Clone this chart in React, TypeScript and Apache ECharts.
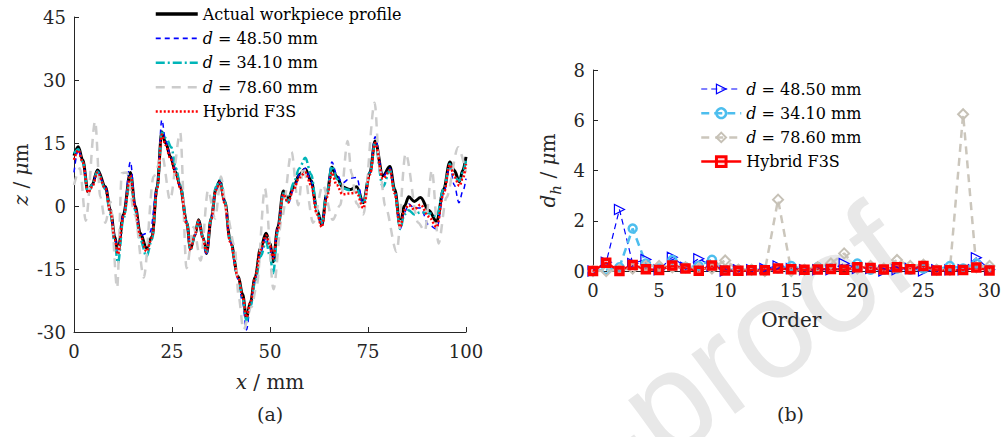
import React, { useEffect, useRef } from "react";
import * as echarts from "echarts";

// ---------- (a) profile data: [x (mm), z (µm)] ----------
const actualProfile: [number, number][] = [[0,12],[1.1,14.1],[2.2,11],[3.6,3.4],[4.6,5],[6,8.6],[8,4.6],[9.3,-1],[10.4,-7.3],[11.2,-11],[12.6,-2],[14.4,8],[15.6,0],[16.9,-6.5],[18.5,-10],[19.9,-7.3],[21.2,4.6],[22.4,17.7],[23.4,15],[24.6,11.7],[26,8],[27.1,4.6],[28.8,-4.1],[29.7,-10.2],[30.8,-7],[31.8,-3.3],[32.9,-7.5],[33.8,-11.3],[35,-3],[36.2,4],[37.2,6],[38.5,1],[39.8,-8],[41.9,-16.8],[43,-21],[44,-26.7],[45,-23],[46.2,-17],[47.6,-10],[49,-6.5],[50,-9],[50.8,-13.3],[52,-5],[53.4,3.6],[54.6,1.5],[56,4.5],[57.5,7.5],[59,8.8],[60.5,6],[62,-1],[63.2,-4.5],[64.5,3],[65.8,9.2],[67,7],[68.5,4.5],[70.4,3.9],[72.1,4.6],[73.8,0.8],[75.5,8],[76.8,15.5],[78.8,7.2],[80.6,9.4],[81.8,4],[83.2,-4.5],[84.3,0],[85.4,2.2],[86.8,1.1],[88.4,2],[90.5,-1],[92.5,-3.7],[94.3,4],[95.9,10.5],[97,8.5],[98.3,5.8],[99.2,8.5],[100,11.7]];

const profileD4850: [number, number][] = [[0,8],[1.1,13.5],[2.2,10.5],[3.6,3.5],[4.6,5],[6,8.3],[8,4.5],[9.3,-1],[10.4,-7.5],[11.2,-11],[12.6,-2],[14.4,10.5],[15.6,0],[16.9,-7],[19.4,-6.2],[21.2,4.5],[22.4,20.5],[23.4,15.5],[24.6,12],[26,8.5],[27.1,4.5],[28.8,-4],[29.7,-10.2],[30.8,-7],[31.8,-3.5],[32.9,-8],[33.8,-11.8],[35,-3],[36.2,4],[37.2,5.8],[38.5,1],[39.8,-8.5],[41.9,-17.5],[43,-23],[44,-29.5],[45,-24],[46.2,-18],[47.6,-11],[49,-7.5],[50,-10],[50.8,-12.5],[52,-5],[53.4,3],[54.6,0.5],[56,4],[57.5,7.5],[59,9],[60.5,6],[62,-1.5],[63.2,-4.5],[64.5,3],[65.8,10.5],[67,7.5],[68.5,5.5],[70.4,6.6],[72.1,6.8],[73.8,0.5],[75.5,8],[76.8,16.5],[78.8,7],[80.6,9],[81.8,3.5],[83.2,-5.5],[84.3,-1.5],[85.4,0.5],[86.8,-0.5],[88.4,-0.5],[90.5,-4.5],[92.5,-5.5],[94.3,3],[95.9,9.8],[97,5],[98.2,0.8],[99.2,3.5],[100,6.5]];

const profileD3410: [number, number][] = [[0,12.5],[1.1,13.5],[2.2,10.5],[3.6,3.2],[4.6,5],[6,8.2],[8,4],[9.3,-2],[10.4,-9],[11.2,-13.6],[12.6,-3],[14.4,7],[15.6,-1],[16.9,-8],[18.5,-12],[19.9,-8],[21.2,4],[22.4,17.5],[23.6,16],[24.8,14],[26,9],[27.1,5],[28.8,-4],[29.7,-10.5],[30.8,-7],[31.8,-3.5],[32.9,-7.5],[33.8,-11],[35,-3],[36.2,4.5],[37.2,6.2],[38.5,1],[39.8,-8],[41.9,-17],[43,-22],[44,-27.3],[45,-24],[46.2,-18],[47.6,-12],[49,-8.5],[50,-12],[50.8,-16],[52,-6],[53.4,3],[54.6,1],[56,5.5],[57.5,9],[59,11.5],[60.5,7.5],[62,-1],[63.2,-4],[64.5,3],[65.8,9.5],[67,6.5],[68.5,4.2],[70.4,3.8],[72.1,4],[73.8,0.5],[75.5,8],[76.8,15],[78.8,4.6],[80.6,8.5],[81.8,3.5],[83.2,-5.5],[84.3,-2],[85.4,-1],[86.8,-2],[88.4,-1.5],[90.5,-1.7],[92.5,-2.5],[94.3,4],[95.9,10],[97,7],[98.3,6],[99.2,8],[100,11]];

const profileD7860: [number, number][] = [[0,5],[1.5,9],[3,-3.5],[5.4,20.2],[6.7,2.2],[8,-4],[9.3,1],[11,-19.5],[12.2,7.8],[13.5,8],[15.5,-2],[17.8,-17],[20.3,7],[22.5,12],[24.5,1.4],[27.1,17.5],[28.7,-14.8],[30.5,-5],[32.3,-13],[34.2,3.8],[36,-3],[37.5,7],[39,-2],[41,-9.7],[42,-21.6],[43.2,-29.5],[45.3,-24],[46.6,-19],[48.7,4.2],[50.9,-19.8],[53,-3],[55.5,12.9],[57.2,0.2],[58.5,9.4],[61,-4],[63.5,5],[66,-3.3],[67.9,0.2],[69.8,15.5],[70.8,7.8],[72.1,0.6],[73.8,-2],[76.7,24.6],[78,8.6],[79.4,0],[82.3,-10.9],[84.6,12.5],[87.8,-4],[89.5,-6],[91.3,8.6],[93,-8.9],[95,2],[98,14],[100,8]];

const profileHybrid: [number, number][] = [[0,11],[1.1,13.3],[2.2,10.5],[3.6,3.2],[4.6,4.5],[6,8],[8,4.2],[9.3,-1.5],[10.4,-8],[11.2,-11.5],[12.6,-2.5],[14.4,7.3],[15.6,-0.5],[16.9,-7],[18.5,-10.8],[19.9,-7.5],[21.2,4],[22.4,17],[23.4,14.5],[24.6,11.3],[26,7.5],[27.1,4.3],[28.8,-4.5],[29.7,-10.5],[30.8,-7],[31.8,-3.5],[32.9,-7.8],[33.8,-11],[35,-3],[36.2,3.8],[37.2,5.5],[38.5,0.5],[39.8,-8.5],[41.9,-17],[43,-21.5],[44,-26.5],[45,-23],[46.2,-17],[47.6,-10.5],[49,-7],[50,-9.5],[50.8,-12.5],[52,-5.5],[53.4,2.8],[54.6,0.8],[56,4],[57.5,6.8],[59,8],[60.5,5],[62,-2],[63.2,-5],[64.5,2],[65.8,8],[67,5],[68.5,2.8],[70.4,3],[72.1,3.2],[73.8,-0.5],[75.5,7.5],[76.8,15],[78.8,6.5],[80.6,8.5],[81.8,3],[83.2,-5],[84.3,-1],[85.4,0.2],[86.8,-0.8],[88.4,0.3],[90.5,-2.5],[92.5,-5],[94.3,3],[95.9,9.8],[97,7],[98.3,4.8],[99.2,6.5],[100,10]];

// ---------- (b) harmonic deviation data, orders 0..30 ----------
const orders: number[] = Array.from({ length: 31 }, (_, i) => i);
const dhD4850: number[] = [0,0.35,2.45,0.3,0.46,0.05,0.55,0.15,0.49,0.2,0,0.05,0.05,0.1,0.2,0.1,0.05,0.05,0.05,0.3,0.1,0.1,0,0.05,0.1,0,0.05,0.05,0.05,0.53,0.05];
const dhD3410: number[] = [0,0.05,0.15,1.69,0.3,0.1,0.44,0.15,0.2,0.45,0.05,0.05,0.05,0.05,0.1,0.2,0.05,0.15,0.1,0.05,0.3,0.05,0.05,0.1,0.05,0.1,0.05,0.2,0.1,0.3,0.05];
const dhD7860: number[] = [0,0,0.05,0.1,0.2,0.2,0.15,0.15,0.1,0.1,0.42,0.05,0.05,0,2.84,0,0.05,0.15,0.3,0.7,0.1,0.2,0.1,0.44,0.2,0.25,0.05,0.05,6.24,0.15,0.2];
const dhHybrid: number[] = [0,0.33,0,0.24,0.07,0.04,0.22,0.1,0.01,0.22,0.02,0.01,0.03,0.03,0.1,0.07,0.05,0.06,0.08,0.05,0.15,0.12,0.06,0.15,0.07,0.2,0.02,0.03,0.04,0.14,0.02];

const zTicks = { min: -30, max: 45, interval: 15 };
const xTicks = { min: 0, max: 100, interval: 25 };
const dhTicks = { min: 0, max: 8, interval: 2 };
const orderTicks = { min: 0, max: 30, interval: 5 };

const FONT = "'DejaVu Serif', serif";
const AX = "#262626";

const pair = (xs: number[], ys: number[]) => xs.map((x, i) => [x, ys[i]]);

export default function App() {
  const ref = useRef<HTMLDivElement>(null);
  useEffect(() => {
    document.body.style.margin = "0";
    if (!ref.current) return;
    const chart = echarts.init(ref.current, undefined, { renderer: "svg" });

    const axisCommon = {
      axisLine: { show: true, onZero: false, lineStyle: { color: AX, width: 1 } },
      axisTick: { show: true, inside: true, length: 5, lineStyle: { color: AX, width: 1 } },
      splitLine: { show: false },
      axisLabel: { fontFamily: FONT, fontSize: 18, color: AX },
      nameLocation: "middle" as const,
    };
    const nameStyle = {
      fontFamily: FONT,
      fontSize: 20,
      color: AX,
      lineHeight: 24,
      rich: {
        i: { fontFamily: FONT, fontSize: 20, fontStyle: "italic", color: AX, lineHeight: 24 },
        n: { fontFamily: FONT, fontSize: 20, color: AX, lineHeight: 24 },
      },
    };
    const nameStyleDh = {
      fontFamily: FONT,
      fontSize: 20,
      color: AX,
      lineHeight: 30,
      rich: {
        i: { fontFamily: FONT, fontSize: 20, fontStyle: "italic", color: AX, lineHeight: 30 },
        n: { fontFamily: FONT, fontSize: 20, color: AX, lineHeight: 30 },
        s: { fontFamily: FONT, fontSize: 15, fontStyle: "italic", color: AX, lineHeight: 15, verticalAlign: "bottom" },
      },
    };

    const legendText = {
      fontFamily: FONT,
      fontSize: 16,
      color: "#000",
      lineHeight: 20,
      rich: {
        i: { fontFamily: FONT, fontSize: 16, fontStyle: "italic", color: "#000", lineHeight: 20 },
        n: { fontFamily: FONT, fontSize: 16, color: "#000", lineHeight: 20 },
      },
    };
    const fmtName = (name: string) => {
      const s = name.replace(/^b-/, "");
      return s.startsWith("d = ") ? "{i|d}{n|" + s.slice(1) + "}" : "{n|" + s + "}";
    };
    const hidden = { color: "rgba(0,0,0,0)", borderColor: "rgba(0,0,0,0)", borderWidth: 0 };

    const lineA = (name: string, data: [number, number][], color: string, width: number, type: any, smooth = 0.35) => ({
      name,
      type: "line",
      xAxisIndex: 0,
      yAxisIndex: 0,
      data,
      symbol: "none",
      smooth,
      smoothMonotone: "x",
      lineStyle: { color, width, type },
      itemStyle: { color },
    });

    const option: any = {
      animation: false,
      backgroundColor: "#fff",
      graphic: [
        {
          type: "text",
          z: 0,
          x: 935,
          y: 295,
          rotation: (36 * Math.PI) / 180,
          silent: true,
          style: {
            text: "Journal Pre-proof",
            font: "140px 'Liberation Sans', sans-serif",
            fill: "#e8e8e8",
            textAlign: "right",
            textVerticalAlign: "bottom",
          },
        },
        { type: "text", left: 257, top: 404, style: { text: "(a)", font: `19px ${FONT}`, fill: AX } },
        { type: "text", left: 777, top: 404, style: { text: "(b)", font: `19px ${FONT}`, fill: AX } },
      ],
      grid: [
        { left: 74, top: 17, width: 392, height: 315, show: false },
        { left: 593, top: 70, width: 398, height: 201, show: false },
      ],
      xAxis: [
        {
          ...axisCommon,
          gridIndex: 0,
          type: "value",
          ...xTicks,
          axisLabel: { ...axisCommon.axisLabel, margin: 10 },
          name: "{i|x}{n| / mm}",
          nameGap: 38,
          nameTextStyle: nameStyle,
        },
        {
          ...axisCommon,
          gridIndex: 1,
          type: "value",
          ...orderTicks,
          axisLabel: { ...axisCommon.axisLabel, margin: 10 },
          name: "Order",
          nameGap: 37,
          nameTextStyle: nameStyle,
        },
      ],
      yAxis: [
        {
          ...axisCommon,
          gridIndex: 0,
          type: "value",
          ...zTicks,
          axisLabel: { ...axisCommon.axisLabel, margin: 8 },
          name: "{i|z}{n| / }{i|μ}{n|m}",
          nameGap: 34,
          nameTextStyle: nameStyle,
        },
        {
          ...axisCommon,
          gridIndex: 1,
          type: "value",
          ...dhTicks,
          axisLabel: { ...axisCommon.axisLabel, margin: 8 },
          name: "{i|d}{s|h}{n| / }{i|μ}{n|m}",
          nameGap: 30,
          nameTextStyle: nameStyleDh,
        },
      ],
      legend: [
        {
          orient: "vertical",
          left: 154,
          top: 4,
          padding: 0,
          itemGap: 4.4,
          itemWidth: 42,
          itemHeight: 14,
          textStyle: legendText,
          formatter: fmtName,
          data: [
            { name: "Actual workpiece profile", lineStyle: { width: 3.5 }, itemStyle: hidden },
            { name: "d = 48.50 mm", lineStyle: { width: 1.8 }, itemStyle: hidden },
            { name: "d = 34.10 mm", lineStyle: { width: 2.5 }, itemStyle: hidden },
            { name: "d = 78.60 mm", lineStyle: { width: 2.5 }, itemStyle: hidden },
            { name: "Hybrid F3S", lineStyle: { width: 2.5 }, itemStyle: hidden },
          ],
        },
        {
          orient: "vertical",
          left: 700,
          top: 79,
          padding: 0,
          itemGap: 4.2,
          itemWidth: 40,
          itemHeight: 12,
          textStyle: legendText,
          formatter: fmtName,
          data: [
            { name: "b-d = 48.50 mm", lineStyle: { width: 1.2 }, itemStyle: { borderWidth: 1.2 } },
            { name: "b-d = 34.10 mm", lineStyle: { width: 2.5 }, itemStyle: { borderWidth: 2.5 } },
            { name: "b-d = 78.60 mm", lineStyle: { width: 2.5 }, itemStyle: { borderWidth: 2 } },
            { name: "b-Hybrid F3S", lineStyle: { width: 2.5 }, itemStyle: { borderWidth: 3 } },
          ],
        },
      ],
      series: [
        lineA("Actual workpiece profile", actualProfile, "#000000", 3, "solid"),
        lineA("d = 48.50 mm", profileD4850, "#0000ff", 1.5, [5, 4]),
        lineA("d = 34.10 mm", profileD3410, "#00b5b8", 2.5, [9, 3, 2, 3]),
        lineA("d = 78.60 mm", profileD7860, "#cccccc", 2.5, [9, 7], 0.3),
        lineA("Hybrid F3S", profileHybrid, "#ff0000", 2.5, [2, 2]),
        {
          name: "b-d = 48.50 mm",
          type: "line",
          xAxisIndex: 1,
          yAxisIndex: 1,
          data: pair(orders, dhD4850),
          symbol: "triangle",
          symbolRotate: -90,
          symbolSize: 10,
          lineStyle: { color: "#0000ff", width: 1.2, type: [6, 4] },
          itemStyle: { color: "rgba(0,0,0,0)", borderColor: "#0000ff", borderWidth: 1.2 },
        },
        {
          name: "b-d = 34.10 mm",
          type: "line",
          xAxisIndex: 1,
          yAxisIndex: 1,
          data: pair(orders, dhD3410),
          symbol: "circle",
          symbolSize: 8,
          lineStyle: { color: "#4dbeee", width: 2.5, type: [8, 5] },
          itemStyle: { color: "rgba(0,0,0,0)", borderColor: "#4dbeee", borderWidth: 2.5 },
        },
        {
          name: "b-d = 78.60 mm",
          type: "line",
          xAxisIndex: 1,
          yAxisIndex: 1,
          data: pair(orders, dhD7860),
          symbol: "diamond",
          symbolSize: 10,
          lineStyle: { color: "#cbc6bc", width: 2.5, type: [8, 6] },
          itemStyle: { color: "rgba(0,0,0,0)", borderColor: "#c6c1b6", borderWidth: 2 },
        },
        {
          name: "b-Hybrid F3S",
          type: "line",
          xAxisIndex: 1,
          yAxisIndex: 1,
          data: pair(orders, dhHybrid),
          symbol: "rect",
          symbolSize: 7,
          lineStyle: { color: "#ff0000", width: 2.5 },
          itemStyle: { color: "rgba(255,0,0,0.15)", borderColor: "#ff0000", borderWidth: 3.5 },
        },
      ],
    };
    chart.setOption(option);
    return () => chart.dispose();
  }, []);
  return <div ref={ref} style={{ width: 1004, height: 437 }} />;
}
